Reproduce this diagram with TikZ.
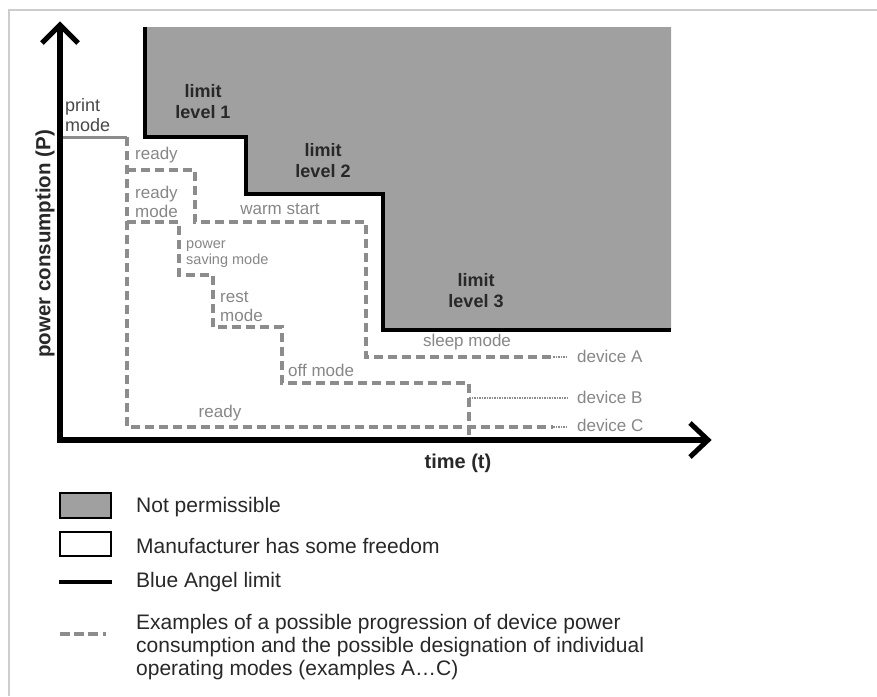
\documentclass[tikz,border=0pt]{standalone}
\usepackage{fontspec}
\setmainfont{Liberation Sans}
\definecolor{region}{RGB}{160,160,160}
\definecolor{tracec}{RGB}{140,140,140}
\definecolor{lbl}{RGB}{135,135,135}
\definecolor{dark}{RGB}{40,40,40}
\definecolor{framec}{RGB}{205,205,205}
\tikzset{
  axisline/.style={line width=6.5pt, black, line join=miter},
  axishead/.style={line width=5pt, black, line join=miter},
  limitline/.style={line width=4pt, black},
  traceline/.style={line width=3.5pt, color=tracec, dash pattern=on 9pt off 5pt},
  tracedot/.style={line width=1.5pt, color=tracec, dash pattern=on 1.5pt off 1pt},
  graylbl/.style={text=lbl, font=\fontsize{17}{19}\selectfont, inner sep=0, align=left},
  boldlbl/.style={text=dark, font=\bfseries\fontsize{18}{21}\selectfont, align=center, inner sep=0},
  legtext/.style={font=\fontsize{21}{23}\selectfont, text=dark, anchor=west, inner sep=0}
}
\begin{document}
\begin{tikzpicture}[x=1pt,y=-1pt]
\useasboundingbox (0,0) rectangle (877,696);
\fill[white] (0,0) rectangle (877,696);
\draw[framec, line width=1.5pt] (9,696) -- (9,10) -- (877,10);

% not permissible region
\fill[region] (145,27) -- (671,27) -- (671,330) -- (383,330) -- (383,194) -- (246,194) -- (246,137) -- (145,137) -- cycle;
\draw[limitline] (145,27) -- (145,137) -- (246,137) -- (246,194) -- (383,194) -- (383,330) -- (671,330);

% device traces
\draw[line width=3pt, tracec] (60,137) -- (127,137);
\draw[traceline] (127,137) -- (127,427) -- (553,427);
\draw[traceline] (127,170) -- (195,170) -- (195,222) -- (366,222) -- (366,357) -- (553,357);
\draw[traceline] (127,222) -- (179,222) -- (179,275) -- (213,275) -- (213,327) -- (282,327) -- (282,383) -- (469,383) -- (469,437);
\draw[tracedot] (553,357) -- (567,357);
\draw[tracedot] (469,398) -- (567,398);
\draw[tracedot] (553,427) -- (567,427);

% axes
\coordinate (ytip) at (60,25);
\coordinate (orig) at (60,440);
\coordinate (xtip) at (708,440);
\draw[axisline] (ytip) -- (orig) -- (xtip);
\draw[axishead] (42,43) -- (ytip) -- (78,43);
\draw[axishead] (690,423) -- (xtip) -- (690,457);

% labels
\node[anchor=west, text=dark!85, font=\fontsize{18}{20}\selectfont, align=left, inner sep=0] (print) at (65,115) {print\\mode};
\node[graylbl, anchor=west] (rdy1) at (135,155) {ready};
\node[graylbl, anchor=west] (rdym) at (135,202) {ready\\mode};
\node[graylbl] (warm) at (280,209) {warm start};
\node[graylbl, anchor=west, font=\fontsize{14.5}{16}\selectfont] (psm) at (186,254) {power\\saving mode};
\node[graylbl, anchor=west] (rest) at (220,307) {rest\\mode};
\node[graylbl, anchor=west] (off) at (288,370) {off mode};
\node[graylbl] (rdy2) at (220,413) {ready};
\node[graylbl] (sleep) at (467,342) {sleep mode};
\node[graylbl, anchor=west] (devA) at (577,356) {device A};
\node[graylbl, anchor=west] (devB) at (577,397) {device B};
\node[graylbl, anchor=west] (devC) at (577,425) {device C};

\node[boldlbl] (lim1) at (203,102) {limit\\level 1};
\node[boldlbl] (lim2) at (323,161) {limit\\level 2};
\node[boldlbl] (lim3) at (476,291) {limit\\level 3};

\node[text=dark, font=\bfseries\fontsize{20}{24}\selectfont, inner sep=0] (tlabel) at (458,463) {time (t)};
\node[text=dark, rotate=90, font=\bfseries\fontsize{20.5}{24}\selectfont, inner sep=0] (plabel) at (45,244) {power consumption (P)};

% legend
\draw[line width=2.5pt, fill=region] (60,493) rectangle (111,518);
\draw[line width=2.5pt, fill=white] (60,532) rectangle (111,556);
\draw[line width=4pt] (59,582) -- (112,582);
\draw[line width=3.5pt, tracec, dash pattern=on 10pt off 4pt on 10pt off 4pt on 10pt off 5pt on 3pt off 20pt] (60,634) -- (110,634);
\node[legtext] (leg1) at (136,507) {Not permissible};
\node[legtext] (leg2) at (136,546) {Manufacturer has some freedom};
\node[legtext] (leg3) at (136,582) {Blue Angel limit};
\node[legtext] (leg4a) at (136,624) {Examples of a possible progression of device power};
\node[legtext] (leg4b) at (136,647) {consumption and the possible designation of individual};
\node[legtext] (leg4c) at (136,670) {operating modes (examples A\dots C)};
\end{tikzpicture}
\end{document}
